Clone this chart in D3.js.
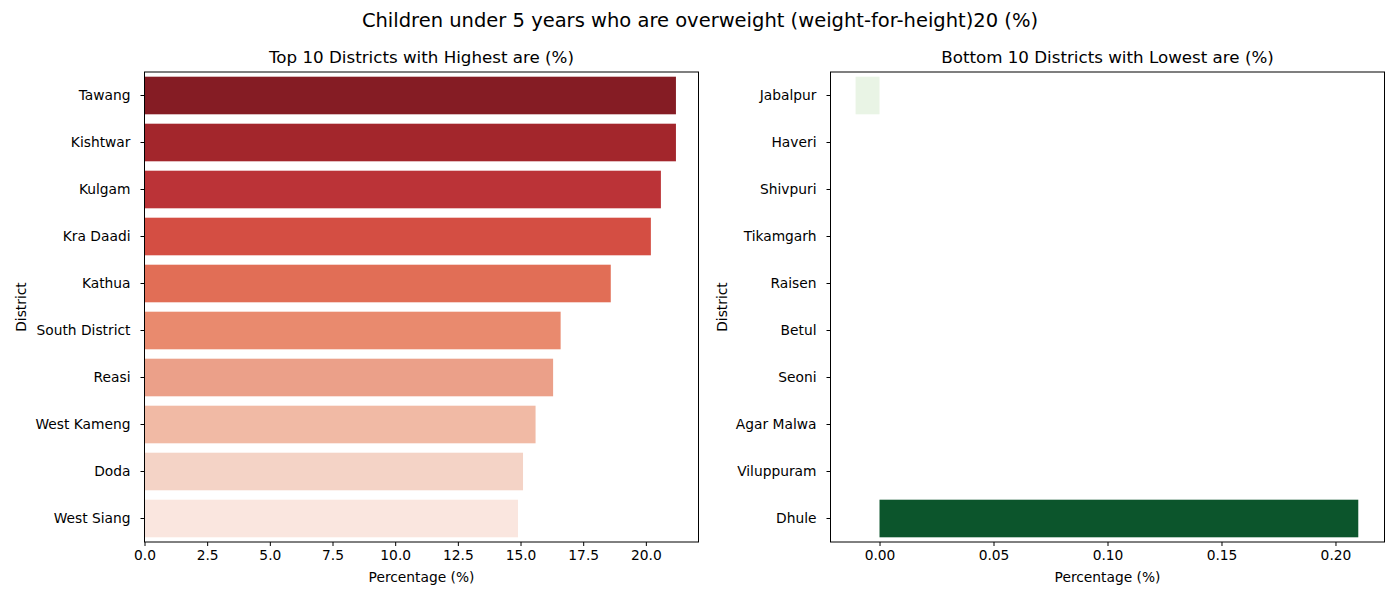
<!DOCTYPE html>
<html><head><meta charset="utf-8">
<script src="https://cdn.jsdelivr.net/npm/d3@7"></script>
<style>body{margin:0;background:#fff}text{font-family:"DejaVu Sans",sans-serif;fill:#000}</style>
</head><body>
<script>
var topDistricts = ['Tawang','Kishtwar','Kulgam','Kra Daadi','Kathua','South District','Reasi','West Kameng','Doda','West Siang']
var topValues = [21.2, 21.2, 20.6, 20.2, 18.6, 16.6, 16.3, 15.6, 15.1, 14.9]
var bottomDistricts = ['Jabalpur','Haveri','Shivpuri','Tikamgarh','Raisen','Betul','Seoni','Agar Malwa','Viluppuram','Dhule']
var bottomValues = [-0.0105, 0, 0, 0, 0, 0, 0, 0, 0, 0.21]
var topTicks = [0,2.5,5,7.5,10,12.5,15,17.5,20]
var bottomTicks = [0,0.05,0.10,0.15,0.20]

var svg = d3.select('body').append('svg').attr('width',1400).attr('height',600)
svg.append('text').attr('x',700).attr('y',27).attr('text-anchor','middle').style('font-size','19.5px')
  .text('Children under 5 years who are overweight (weight-for-height)20 (%)')

function panel(left, right, names, vals, domain, ticks, fmt, colors, title, ylabX) {
  var top = 72, bottom = 542
  var x = d3.scaleLinear().domain(domain).range([left, right])
  var y = d3.scaleBand().domain(names).range([top, bottom]).paddingInner(0.2).paddingOuter(0.1)
  var g = svg.append('g')
  g.selectAll('rect.bar').data(names).enter().append('rect')
    .attr('x', (d,i) => Math.min(x(0), x(vals[i])))
    .attr('width', (d,i) => Math.abs(x(vals[i]) - x(0)))
    .attr('y', d => y(d)).attr('height', y.bandwidth())
    .attr('fill', (d,i) => colors(i))
  g.append('g').attr('transform','translate(0,'+bottom+')')
    .call(d3.axisBottom(x).tickValues(ticks).tickFormat(fmt).tickSizeOuter(0).tickSize(4).tickPadding(4))
    .call(a => a.selectAll('text').style('font-size','13.8px'))
    .call(a => a.select('.domain').remove())
  g.append('g').attr('transform','translate('+left+',0)')
    .call(d3.axisLeft(y).tickSizeOuter(0).tickSize(4).tickPadding(10))
    .call(a => a.selectAll('text').style('font-size','13.8px'))
    .call(a => a.select('.domain').remove())
  g.append('rect').attr('x',left).attr('y',top).attr('width',right-left).attr('height',bottom-top)
    .attr('fill','none').attr('stroke','#000').attr('stroke-width',1)
  g.append('text').attr('x',(left+right)/2).attr('y',63).attr('text-anchor','middle').style('font-size','16.7px').text(title)
  g.append('text').attr('x',(left+right)/2).attr('y',582).attr('text-anchor','middle').style('font-size','13.8px').text('Percentage (%)')
  g.append('text').attr('transform','translate('+ylabX+','+((top+bottom)/2)+') rotate(-90)')
    .attr('text-anchor','middle').style('font-size','13.8px').text('District')
}

var reds = ['#851c24','#a3262c','#bb3337','#d44e43','#e16e56','#e98a6e','#eba089','#f1baa5','#f4d3c6','#fae6df']
panel(144.5, 698.5, topDistricts, topValues, [0, 22.1], topTicks, d3.format('.1f'), i => reds[i],
  'Top 10 Districts with Highest are (%)', 26)
var greens = ['#e9f4e5','#d5ebcf','#b8dfb1','#93cc8f','#6cb970','#45a156','#2c8542','#146c36','#0b5a2d','#0c552c']
panel(830.5, 1384.5, bottomDistricts, bottomValues, [-0.0215, 0.2215], bottomTicks, d3.format('.2f'), i => greens[i],
  'Bottom 10 Districts with Lowest are (%)', 727)
</script>
</body></html>
